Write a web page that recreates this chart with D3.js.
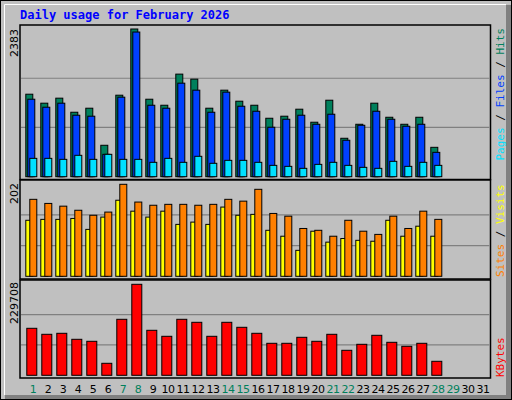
<!DOCTYPE html><html><head><meta charset="utf-8">
<script src="https://cdn.jsdelivr.net/npm/d3@7"></script>
<style>body{margin:0;background:#fff}svg{display:block}</style></head><body>
<script>
const days = d3.range(1, 32);
const weekendDays = [1,7,8,14,15,21,22,28,29];
const hits  = [1331,1186,1267,1040,1105,507,1315,2383,1250,1153,1655,1574,1105,1396,1218,1153,943,976,1089,879,1234,620,846,1186,959,846,959,474];
const files = [1250,1121,1186,992,976,361,1283,2334,1153,1105,1509,1396,1040,1364,1137,1056,798,927,992,846,1008,588,830,1056,927,814,846,393];
const pages = [296,296,280,345,280,361,280,280,232,296,232,329,216,264,264,232,183,167,135,199,232,183,151,135,248,167,232,183];
const visits= [123,125,125,127,103,130,167,143,130,143,114,119,114,152,134,136,101,88,57,99,75,83,79,77,123,88,110,88];
const sites = [169,160,154,145,134,141,202,163,156,158,158,156,158,169,165,191,138,132,105,101,88,123,99,92,132,105,143,125];
const kbytes= [118639,103490,106017,90871,85823,30290,141355,229708,113589,98443,141355,133783,98443,133783,121162,106017,80774,80774,95920,85823,103490,63105,78250,100968,83299,73202,80774,35339];
const maxLabels = ["2383","202","229708"];

const W=512,H=400;
const svg=d3.select("body").append("svg").attr("width",W).attr("height",H);
svg.append("rect").attr("width",W).attr("height",H).attr("fill","#c0c0c0");
// frame
svg.append("rect").attr("x",0.5).attr("y",0.5).attr("width",W-1).attr("height",H-1).attr("fill","none").attr("stroke","#000");
svg.append("rect").attr("x",506).attr("y",5).attr("width",5).attr("height",394).attr("fill","#808080");
svg.append("rect").attr("x",5).attr("y",395).attr("width",506).attr("height",4).attr("fill","#808080");
svg.append("path").attr("d","M4.5,395 V4.5 H506").attr("fill","none").attr("stroke","#fff");

svg.append("text").attr("x",20).attr("y",19).text("Daily usage for February 2026")
  .attr("font-family","DejaVu Sans Mono").attr("font-weight","bold").attr("font-size",12).attr("fill","#0000ff");

const x=d3.scaleLinear().domain([1,2]).range([25.3,40.3]);
const L=20,R=490.5;
const panels=[{top:25,bot:179.5,base:176.7,maxY:29},{top:180,bot:279,base:276.3,maxY:184.3},{top:280,bot:378,base:375.3,maxY:284.3}];
panels.forEach(p=>{
  svg.append("rect").attr("x",L).attr("y",p.top).attr("width",R-L).attr("height",p.bot-p.top).attr("fill","#c0c0c0").attr("stroke","#000").attr("stroke-width",1.5);
});
function grid(p,y){[1,2].forEach(k=>{const gy=y(y.domain()[1]*k/3);
  svg.append("line").attr("x1",L+1).attr("x2",R-1).attr("y1",gy).attr("y2",gy).attr("stroke","#808080").attr("stroke-width",1.2);});}
function bars(data,y,off,w,color){
  svg.append("g").selectAll("rect").data(data).join("rect")
   .attr("x",(d,i)=>x(i+1)+off).attr("width",w)
   .attr("y",d=>y(d)).attr("height",d=>y(0)-y(d))
   .attr("fill",color).attr("stroke","#000").attr("stroke-width",1);
}
const y1=d3.scaleLinear().domain([0,2383]).range([panels[0].base,panels[0].maxY]);
grid(panels[0],y1);
bars(hits,y1,0.5,7,"#00805c");bars(files,y1,2.5,7,"#0040ff");bars(pages,y1,4.5,7,"#00e0ff");
const y2=d3.scaleLinear().domain([0,202]).range([panels[1].base,panels[1].maxY]);
grid(panels[1],y2);
bars(visits,y2,0.5,7,"#ffff00");bars(sites,y2,4.5,7,"#ff8000");
const y3=d3.scaleLinear().domain([0,229708]).range([panels[2].base,panels[2].maxY]);
grid(panels[2],y3);
bars(kbytes,y3,1.5,10,"#ff0000");

// left labels
[[29,maxLabels[0]],[183,maxLabels[1]],[282,maxLabels[2]]].forEach(([yy,t])=>{
  svg.append("text").attr("transform",`translate(18,${yy}) rotate(-90)`).attr("text-anchor","end")
   .attr("font-family","DejaVu Sans").attr("font-size",11).attr("fill","#000").text(t);
});
// right labels
function rlabel(yy,anchor,parts){
  const t=svg.append("text").attr("transform",`translate(504,${yy}) rotate(-90)`).attr("text-anchor",anchor)
   .attr("font-family","DejaVu Sans Mono").attr("font-size",11);
  parts.forEach(([s,c])=>t.append("tspan").attr("fill",c).text(s));
}
rlabel(28,"end",[["Pages","#00e0ff"],[" / ","#000"],["Files","#0040ff"],[" / ","#000"],["Hits","#00805c"]]);
rlabel(277,"start",[["Sites","#ff8000"],[" / ","#000"],["Visits","#ffff00"]]);
rlabel(377,"start",[["KBytes","#ff0000"]]);

// x labels
svg.append("g").selectAll("text").data(days).join("text")
  .attr("x",d=>x(d)+7.7).attr("y",393).attr("text-anchor","middle")
  .attr("font-family","DejaVu Sans").attr("font-size",11).attr("letter-spacing",-0.5)
  .attr("fill",d=>weekendDays.includes(d)?"#00805c":"#000").text(d=>d);
</script></body></html>
